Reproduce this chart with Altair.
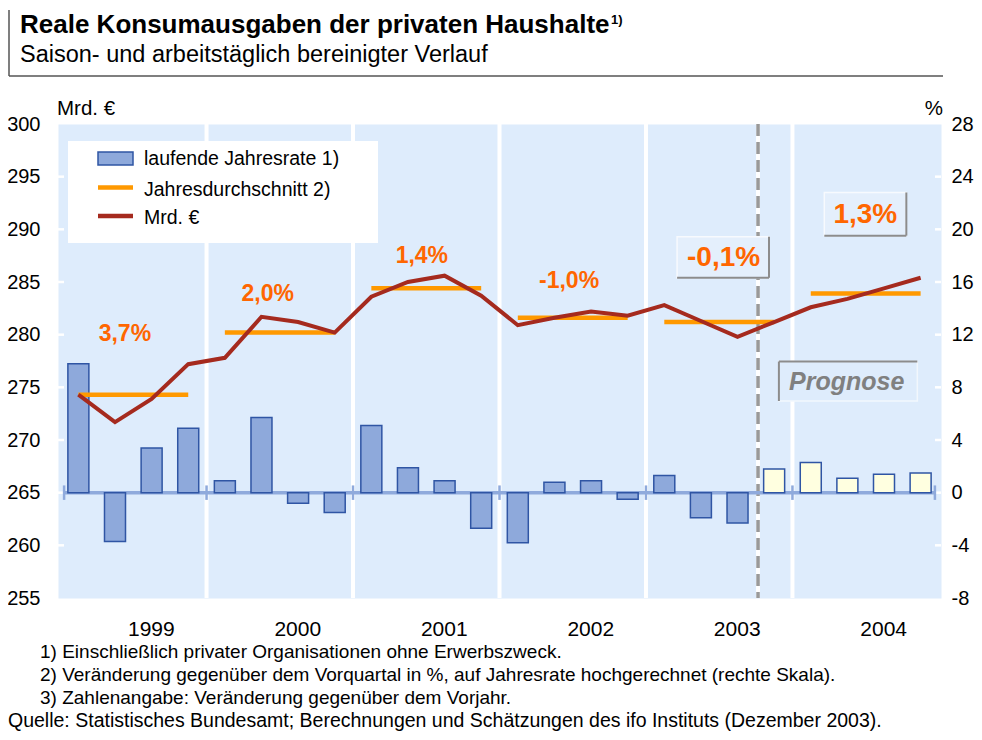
import altair as alt
import pandas as pd

# ------------------------------------------------------------------ data
years = [1999, 2000, 2001, 2002, 2003, 2004]
# laufende Jahresrate (right scale, %), quarterly 1999Q1 .. 2004Q4
rate = [9.8, -3.7, 3.4, 4.9,
        0.9, 5.7, -0.8, -1.5,
        5.1, 1.9, 0.9, -2.7,
        -3.8, 0.8, 0.9, -0.5,
        1.3, -1.9, -2.3, 1.8,
        2.3, 1.1, 1.4, 1.5]
# Mrd. Euro (left scale)
level = [274.3, 271.7, 273.9, 277.2,
         277.8, 281.7, 281.2, 280.2,
         283.6, 285.0, 285.6, 283.7,
         280.9, 281.6, 282.2, 281.8,
         282.8, 281.3, 279.8, 281.2,
         282.6, 283.4, 284.4, 285.4]
kind = ["Ist"] * 19 + ["Prognose"] * 5
# Jahresdurchschnitt (left scale)
year_avg = [274.3, 280.2, 284.4, 281.6, 281.2, 283.9]
year_change = ["3,7%", "2,0%", "1,4%", "-1,0%", "-0,1%", "1,3%"]
boxed = [False, False, False, False, True, True]
left_ticks = [255, 260, 265, 270, 275, 280, 285, 290, 295, 300]
right_ticks = [-8, -4, 0, 4, 8, 12, 16, 20, 24, 28]

title = "Reale Konsumausgaben der privaten Haushalte"
subtitle = "Saison- und arbeitstäglich bereinigter Verlauf"
legend_items = ["laufende Jahresrate 1)", "Jahresdurchschnitt 2)", "Mrd. €"]
notes = ["1) Einschließlich privater Organisationen ohne Erwerbszweck.",
         "2) Veränderung gegenüber dem Vorquartal in %, auf Jahresrate hochgerechnet (rechte Skala).",
         "3) Zahlenangabe: Veränderung gegenüber dem Vorjahr."]
source = "Quelle: Statistisches Bundesamt; Berechnungen und Schätzungen des ifo Instituts (Dezember 2003)."

# ------------------------------------------------------------ placement
# annotation label positions (quarter units / left-axis units)
ann_x = [1.77, 5.67, 9.88, 13.90, 18.12, 21.99]
ann_y = [280.1, 283.9, 287.5, 285.1, 287.3, 291.4]
box_x1 = [16.85, 20.87]
box_x2 = [19.36, 23.11]
box_y1 = [285.4, 289.4]
box_y2 = [289.3, 293.5]
prog_box = dict(x1=19.63, x2=23.41, y1=273.7, y2=277.45, tx=21.48, ty=275.55)
forecast_line = 19.06
X_MIN, X_MAX = 0.08, 23.92

W, H = 883, 474
FONT = "Liberation Sans"
BG = "#DEECFC"
BAR = "#8EA9DB"
BAR_STROKE = "#2F55A4"
ORANGE = "#FF9900"
RED = "#A52A1E"
LABEL = "#FF6600"

XS = alt.Scale(domain=[X_MIN, X_MAX], nice=False, zero=False)
YL = alt.Scale(domain=[255, 300], nice=False, zero=False)
YR = alt.Scale(domain=[-8, 28], nice=False, zero=False)

q = pd.DataFrame({"i": list(range(24)), "rate": rate, "level": level, "kind": kind})
q["x"] = q["i"] + 0.5

one = pd.DataFrame({"a": [0]})


def X(f):
    return alt.X(f, scale=XS, axis=None)


def YLf(f):
    return alt.Y(f, scale=YL, axis=None)


def YRf(f):
    return alt.Y(f, scale=YR, axis=None)


def txt(s, x, y, size, weight="normal", align="left", color="black", style="normal"):
    return alt.Chart(one).mark_text(
        text=s, align=align, baseline="alphabetic", font=FONT, fontSize=size,
        fontWeight=weight, fontStyle=style, color=color
    ).encode(x=alt.value(x), y=alt.value(y))


def prule(x, x2, y, y2, color, width):
    return alt.Chart(one).mark_rule(color=color, strokeWidth=width).encode(
        x=alt.value(x), x2=alt.value(x2), y=alt.value(y), y2=alt.value(y2))


layers = []

# year separators
sep = pd.DataFrame({"x": [4, 8, 12, 16, 20]})
layers.append(alt.Chart(sep).mark_rule(color="white", strokeWidth=4).encode(
    x=X("x:Q"), y=alt.value(0), y2=alt.value(H)))

# forecast divider
fl = pd.DataFrame({"x": [forecast_line]})
layers.append(alt.Chart(fl).mark_rule(color="white", strokeWidth=4).encode(
    x=X("x:Q"), y=alt.value(0), y2=alt.value(H)))
layers.append(alt.Chart(fl).mark_rule(color="#999999", strokeWidth=3.5, strokeDash=[12, 6]).encode(
    x=X("x:Q"), y=alt.value(0), y2=alt.value(H)))

# inward white ticks
tk = pd.DataFrame({"v": left_ticks[1:-1]})
layers.append(alt.Chart(tk).mark_rule(color="white", strokeWidth=2.5).encode(
    y=YLf("v:Q"), x=alt.value(0), x2=alt.value(6)))
layers.append(alt.Chart(tk).mark_rule(color="white", strokeWidth=2.5).encode(
    y=YLf("v:Q"), x=alt.value(W - 6), x2=alt.value(W)))

# Prognose box
pb = pd.DataFrame([prog_box])
layers.append(alt.Chart(pb).mark_rect(fill=BG, stroke="#F2F7FD", strokeWidth=1.5).encode(
    x=X("x1:Q"), x2="x2:Q", y=YLf("y1:Q"), y2="y2:Q"))
layers.append(alt.Chart(pb).mark_rule(color="#8C8C8C", strokeWidth=2).encode(
    x=X("x1:Q"), x2="x2:Q", y=YLf("y2:Q")))
layers.append(alt.Chart(pb).mark_rule(color="#8C8C8C", strokeWidth=2).encode(
    x=X("x1:Q"), y=YLf("y1:Q"), y2="y2:Q"))
layers.append(alt.Chart(pb).mark_text(text="Prognose", font=FONT, fontSize=25, fontWeight="bold",
                                      fontStyle="italic", color="#808080", baseline="middle").encode(
    x=X("tx:Q"), y=YLf("ty:Q")))

# zero line and year ticks on it
zl = pd.DataFrame({"x": [X_MIN], "x2": [X_MAX], "y": [0]})
layers.append(alt.Chart(zl).mark_rule(color="#8FAADC", strokeWidth=3.5).encode(
    x=X("x:Q"), x2="x2:Q", y=YRf("y:Q")))
zt = pd.DataFrame({"x": [X_MIN + 0.03, 4, 8, 12, 16, 20, X_MAX - 0.03], "y": [-0.55] * 7, "y2": [0.55] * 7})
layers.append(alt.Chart(zt).mark_rule(color="#8FAADC", strokeWidth=2.5).encode(
    x=X("x:Q"), y=YRf("y:Q"), y2="y2:Q"))

# bars (right scale, with right axis)
layers.append(alt.Chart(q).mark_bar(size=21, stroke=BAR_STROKE, strokeWidth=1.5).encode(
    x=X("x:Q"),
    y=alt.Y("rate:Q", scale=YR, axis=alt.Axis(
        orient="right", values=right_ticks, labelFontSize=20, labelFont=FONT, labelColor="black",
        labelExpr="toString(datum.value)",
        ticks=False, domain=False, grid=False, labelPadding=10, title="")),
    fill=alt.Fill("kind:N", scale=alt.Scale(domain=["Ist", "Prognose"], range=[BAR, "#FFFFE0"]),
                  legend=None)))

# yearly averages
avg = pd.DataFrame({"x1": [4 * k + 0.5 for k in range(6)], "x2": [4 * k + 3.5 for k in range(6)],
                    "avg": year_avg})
layers.append(alt.Chart(avg).mark_rule(color=ORANGE, strokeWidth=4.5).encode(
    x=X("x1:Q"), x2="x2:Q", y=YLf("avg:Q")))

# level line (left scale, with left axis)
layers.append(alt.Chart(q).mark_line(color=RED, strokeWidth=4).encode(
    x=X("x:Q"),
    y=alt.Y("level:Q", scale=YL, axis=alt.Axis(
        orient="left", values=left_ticks, labelFontSize=20, labelFont=FONT, labelColor="black",
        ticks=False, domain=False, grid=False, labelPadding=18, title=""))))

# boxes for the boxed annotations
bx = pd.DataFrame({"x1": box_x1, "x2": box_x2, "y1": box_y1, "y2": box_y2})
layers.append(alt.Chart(bx).mark_rect(fill="#E4EFFC", stroke="#F7FAFE", strokeWidth=1.5).encode(
    x=X("x1:Q"), x2="x2:Q", y=YLf("y1:Q"), y2="y2:Q"))
layers.append(alt.Chart(bx).mark_rule(color="#8C8C8C", strokeWidth=2).encode(
    x=X("x1:Q"), x2="x2:Q", y=YLf("y1:Q")))
layers.append(alt.Chart(bx).mark_rule(color="#8C8C8C", strokeWidth=2).encode(
    x=X("x2:Q"), y=YLf("y1:Q"), y2="y2:Q"))

# annotations
ann = pd.DataFrame({"x": ann_x, "y": ann_y, "t": year_change, "boxed": boxed})
layers.append(alt.Chart(ann[~ann["boxed"]]).mark_text(
    font=FONT, fontSize=23, fontWeight="bold", color=LABEL, baseline="middle").encode(
    x=X("x:Q"), y=YLf("y:Q"), text="t:N"))
layers.append(alt.Chart(ann[ann["boxed"]]).mark_text(
    font=FONT, fontSize=28, fontWeight="bold", color=LABEL, baseline="middle").encode(
    x=X("x:Q"), y=YLf("y:Q"), text="t:N"))

# year labels
yl = pd.DataFrame({"x": [4 * k + 2 for k in range(6)], "t": [str(y) for y in years]})
layers.append(alt.Chart(yl).mark_text(font=FONT, fontSize=21, dx=18, baseline="alphabetic").encode(
    x=X("x:Q"), y=alt.value(512), text="t:N"))

# legend
layers.append(alt.Chart(one).mark_rect(fill="white").encode(
    x=alt.value(10), x2=alt.value(320), y=alt.value(17), y2=alt.value(119)))
layers.append(alt.Chart(one).mark_rect(fill=BAR, stroke=BAR_STROKE, strokeWidth=1.5).encode(
    x=alt.value(40), x2=alt.value(75), y=alt.value(28), y2=alt.value(41)))
layers.append(prule(40, 75, 63.5, 63.5, ORANGE, 4.5))
layers.append(prule(40, 75, 92, 92, RED, 4.5))
layers.append(txt(legend_items[0], 86, 41, 19.5))
layers.append(txt(legend_items[1], 86, 72, 19.5))
layers.append(txt(legend_items[2], 86, 100, 19.5))

# axis unit titles
layers.append(txt("Mrd. €", -1, -9, 20.5))
layers.append(txt("%", 885, -9, 20.5, align="right"))

# header
layers.append(txt(title, -38, -91, 26, weight="bold"))
layers.append(txt("1)", 553, -100, 13, weight="bold"))
layers.append(txt(subtitle, -38, -62, 23.5))
layers.append(prule(-49, -49, -114, -48, "#555555", 1.5))
layers.append(prule(-49, 885, -48, -48, "#555555", 1.5))

# footnotes
layers.append(txt(notes[0], -18, 534, 19))
layers.append(txt(notes[1], -18, 557, 19))
layers.append(txt(notes[2], -18, 580, 19))
layers.append(txt(source, -50, 603, 19.5))

chart = alt.layer(*layers).resolve_scale(y="independent").properties(
    width=W, height=H,
    autosize=alt.AutoSizeParams(type="none"),
    padding={"left": 50, "top": 116, "right": 33, "bottom": 134},
    background="white",
).configure_view(fill=BG, stroke="transparent")

chart.save("out.html", embed_options={"renderer": "svg", "actions": False})
